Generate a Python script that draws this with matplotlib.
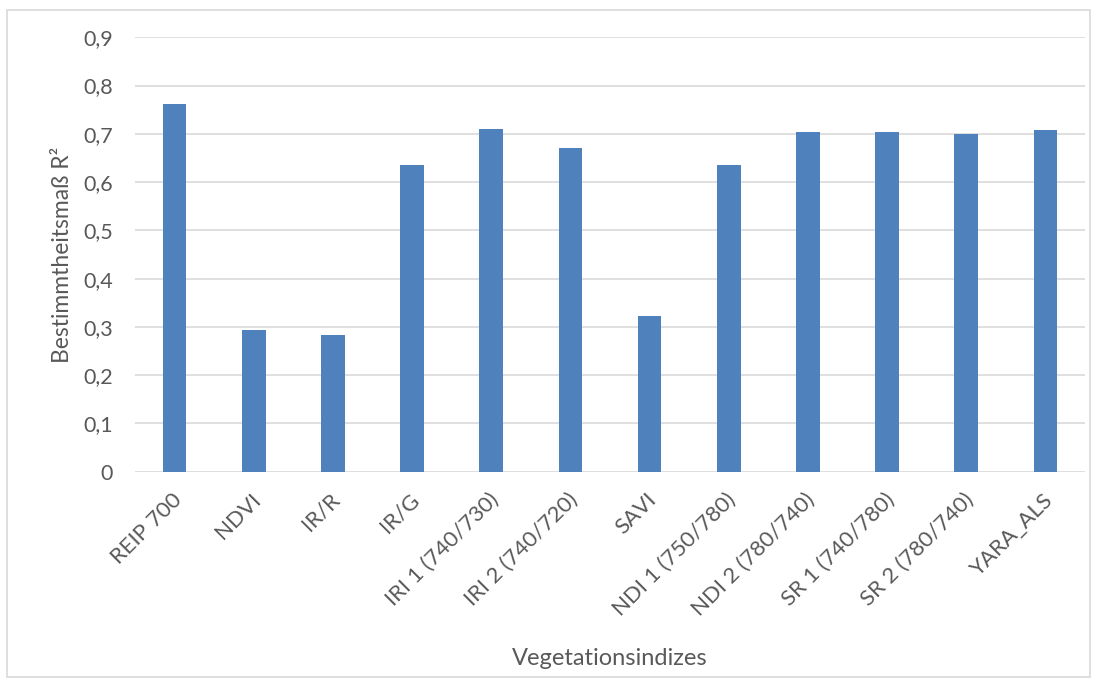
import matplotlib
matplotlib.use("Agg")
import matplotlib.pyplot as plt
import matplotlib.transforms as mtransforms
from matplotlib.patches import Rectangle

# Vegetation indices and their coefficient of determination
indices = ["REIP 700", "NDVI", "IR/R", "IR/G", "IRI 1 (740/730)", "IRI 2 (740/720)",
           "SAVI", "NDI 1 (750/780)", "NDI 2 (780/740)", "SR 1 (740/780)",
           "SR 2 (780/740)", "YARA_ALS"]
r_squared = [0.761, 0.293, 0.284, 0.636, 0.711, 0.670,
             0.322, 0.636, 0.703, 0.703, 0.699, 0.707]
y_ticks = [0.0, 0.1, 0.2, 0.3, 0.4, 0.5, 0.6, 0.7, 0.8, 0.9]
y_tick_labels = ["0", "0,1", "0,2", "0,3", "0,4", "0,5", "0,6", "0,7", "0,8", "0,9"]

plt.rcParams["font.family"] = ["Lato", "DejaVu Sans"]
text_color = "#595959"

W, H = 1099, 685
fig = plt.figure(figsize=(W / 100, H / 100), dpi=100)
ax = fig.add_axes([135 / W, 1 - 471.7 / H, (1085 - 135) / W, (471.7 - 37.3) / H])

x = range(len(indices))
ax.bar(x, r_squared, width=0.30, color="#4F81BD", zorder=3)

ax.set_xlim(-0.5, len(indices) - 0.5)
ax.set_ylim(0, 0.9)
ax.set_yticks(y_ticks)
ax.set_yticklabels(y_tick_labels, fontsize=15.5, color=text_color)
ax.set_xticks(list(x))
ax.set_xticklabels(indices, rotation=45, ha="right", va="center",
                   rotation_mode="anchor", fontsize=16, color=text_color)
ax.tick_params(axis="both", length=0)
ax.tick_params(axis="y", pad=16)
ax.tick_params(axis="x", pad=18)

# Nudge the slanted category labels slightly to the right
shift = mtransforms.ScaledTranslation(4 / 100, 0, fig.dpi_scale_trans)
for lbl in ax.get_xticklabels():
    lbl.set_transform(lbl.get_transform() + shift)

ax.yaxis.grid(True, color="#D9D9D9", linewidth=1.2, zorder=0)
for side in ["top", "right", "left", "bottom"]:
    ax.spines[side].set_visible(False)

ax.set_xlabel("Vegetationsindizes", fontsize=17, color=text_color, labelpad=20)
ax.set_ylabel("Bestimmtheitsmaß R²", fontsize=16.5, color=text_color, labelpad=7)

# Light frame around the whole chart
fig.patches.append(Rectangle((7 / W, 8 / H), 1083 / W, 667 / H,
                             transform=fig.transFigure, fill=False,
                             edgecolor="#D9D9D9", linewidth=1.2))

fig.savefig("out.png", dpi=100)
